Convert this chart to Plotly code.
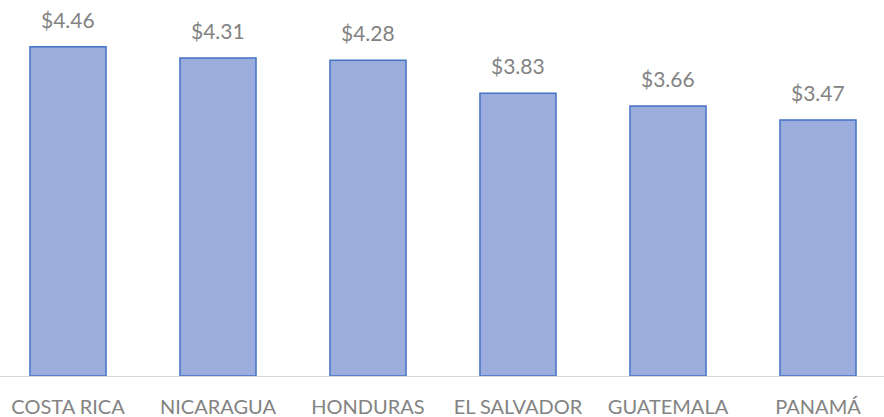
import plotly.graph_objects as go

countries = ["COSTA RICA", "NICARAGUA", "HONDURAS", "EL SALVADOR", "GUATEMALA", "PANAMÁ"]
prices = [4.46, 4.31, 4.28, 3.83, 3.66, 3.47]
price_labels = ["$4.46", "$4.31", "$4.28", "$3.83", "$3.66", "$3.47"]

fig = go.Figure()
fig.add_trace(go.Bar(
    x=list(range(len(countries))),
    y=prices,
    width=0.507,
    marker=dict(color="#9aaddd", line=dict(color="#4472c4", width=1.5)),
    hoverinfo="skip",
))

# value labels above each bar
for i, (v, lbl) in enumerate(zip(prices, price_labels)):
    fig.add_annotation(
        x=i, y=v, text=lbl, showarrow=False,
        yanchor="bottom", yshift=13,
        font=dict(family="Lato", size=21, color="#838383"),
    )

fig.update_layout(
    width=884, height=417,
    margin=dict(l=0, r=0, t=0, b=41),
    plot_bgcolor="white", paper_bgcolor="white",
    showlegend=False,
    xaxis=dict(
        range=[-0.4533, 5.44],
        tickmode="array",
        tickvals=list(range(len(countries))),
        ticktext=countries,
        tickfont=dict(family="Lato", size=20, color="#838383"),
        showline=True, linecolor="#d9d9d9", linewidth=1,
        showgrid=False, zeroline=False, ticks="",
        ticklabelstandoff=13,
    ),
    yaxis=dict(
        range=[0, 5.095],
        visible=False,
        showgrid=False, zeroline=False,
    ),
)

fig.write_html("out.html", config={"displayModeBar": False},
               post_script="document.body.style.margin='0';")
